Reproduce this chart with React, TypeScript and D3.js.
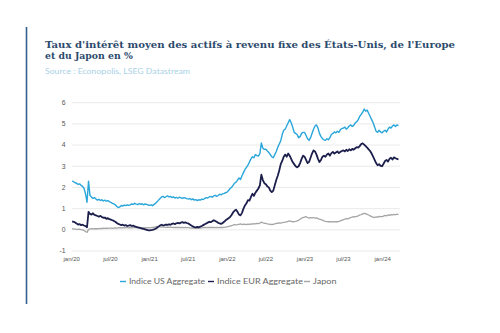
import React from "react";
import * as d3 from "d3";

// Weekly observations starting 3 Jan 2020, rows = quarters (13 weeks)
const usAggregate = [
  2.30, 2.27, 2.22, 2.20, 2.14, 2.17, 2.10, 2.05, 1.95, 1.70, 1.30, 2.30, 1.62,
  1.55, 1.48, 1.52, 1.45, 1.40, 1.44, 1.38, 1.42, 1.36, 1.40, 1.35, 1.38, 1.33,
  1.30, 1.25, 1.22, 1.18, 1.10, 1.05, 1.08, 1.15, 1.12, 1.17, 1.14, 1.18, 1.15,
  1.18, 1.22, 1.20, 1.25, 1.21, 1.19, 1.24, 1.20, 1.23, 1.18, 1.22, 1.20, 1.17,
  1.15, 1.18, 1.14, 1.20, 1.25, 1.32, 1.40, 1.48, 1.55, 1.58, 1.52, 1.56, 1.60,
  1.55, 1.58, 1.52, 1.56, 1.50, 1.53, 1.49, 1.54, 1.51, 1.48, 1.52, 1.50, 1.47,
  1.45, 1.48, 1.42, 1.46, 1.40, 1.43, 1.38, 1.42, 1.40, 1.45, 1.43, 1.48, 1.52,
  1.50, 1.55, 1.58, 1.54, 1.60, 1.63, 1.58, 1.62, 1.68, 1.65, 1.70, 1.72, 1.75,
  1.78, 1.85, 1.95, 2.00, 2.10, 2.20, 2.25, 2.35, 2.45, 2.38, 2.55, 2.70, 2.85,
  2.95, 3.05, 3.20, 3.35, 3.45, 3.40, 3.55, 3.50, 3.48, 3.60, 4.10, 3.85, 3.80,
  3.80, 3.72, 3.65, 3.55, 3.45, 3.40, 3.55, 3.70, 3.90, 4.05, 4.20, 4.50, 4.70,
  4.75, 4.90, 5.05, 5.20, 5.05, 4.85, 4.60, 4.55, 4.50, 4.35, 4.40, 4.55, 4.60,
  4.60, 4.45, 4.30, 4.22, 4.35, 4.55, 4.75, 4.90, 4.95, 4.80, 4.55, 4.40, 4.30,
  4.25, 4.22, 4.30, 4.25, 4.35, 4.50, 4.55, 4.62, 4.58, 4.65, 4.60, 4.72, 4.78,
  4.80, 4.85, 4.75, 4.82, 4.90, 4.95, 4.88, 4.93, 5.05, 5.10, 5.20, 5.35, 5.45,
  5.55, 5.70, 5.60, 5.65, 5.50, 5.35, 5.20, 5.05, 4.85, 4.65, 4.60, 4.70, 4.62,
  4.58, 4.65, 4.70, 4.62, 4.75, 4.85, 4.80, 4.90, 4.95, 4.88, 4.95, 4.92,
];

const eurAggregate = [
  0.40, 0.38, 0.35, 0.30, 0.25, 0.27, 0.22, 0.24, 0.20, 0.18, 0.12, 0.85, 0.75,
  0.72, 0.78, 0.70, 0.68, 0.65, 0.62, 0.66, 0.60, 0.57, 0.58, 0.52, 0.55, 0.50,
  0.48, 0.45, 0.42, 0.38, 0.32, 0.28, 0.25, 0.22, 0.24, 0.20, 0.22, 0.18, 0.20,
  0.22, 0.18, 0.20, 0.16, 0.14, 0.12, 0.10, 0.08, 0.06, 0.04, 0.02, 0.00, -0.02,
  -0.03, -0.01, 0.00, 0.02, 0.05, 0.10, 0.15, 0.20, 0.24, 0.21, 0.22, 0.25, 0.23,
  0.26, 0.24, 0.28, 0.30, 0.27, 0.31, 0.33, 0.30, 0.34, 0.36, 0.33, 0.35, 0.32,
  0.30, 0.25, 0.20, 0.16, 0.13, 0.12, 0.14, 0.12, 0.15, 0.18, 0.22, 0.26, 0.30,
  0.34, 0.38, 0.36, 0.40, 0.45, 0.42, 0.38, 0.33, 0.30, 0.28, 0.32, 0.38, 0.45,
  0.50, 0.55, 0.60, 0.70, 0.82, 0.90, 0.95, 0.85, 0.72, 0.68, 0.80, 1.00, 1.15,
  1.25, 1.40, 1.38, 1.55, 1.70, 1.60, 1.75, 1.85, 1.95, 2.10, 2.60, 2.35, 2.20,
  2.15, 2.05, 2.00, 1.85, 1.78, 1.85, 2.10, 2.35, 2.55, 2.80, 3.10, 3.25, 3.45,
  3.55, 3.45, 3.60, 3.50, 3.35, 3.20, 3.10, 3.00, 2.95, 3.00, 3.15, 3.35, 3.50,
  3.45, 3.30, 3.15, 3.20, 3.40, 3.60, 3.75, 3.70, 3.55, 3.35, 3.20, 3.30, 3.45,
  3.50, 3.45, 3.55, 3.60, 3.50, 3.62, 3.68, 3.60, 3.65, 3.70, 3.62, 3.68, 3.72,
  3.75, 3.70, 3.78, 3.72, 3.80, 3.75, 3.82, 3.78, 3.85, 3.90, 3.88, 3.95, 4.05,
  4.08, 4.02, 3.95, 3.88, 3.80, 3.72, 3.60, 3.45, 3.30, 3.15, 3.05, 3.10, 3.02,
  3.00, 3.12, 3.25, 3.30, 3.22, 3.35, 3.40, 3.32, 3.42, 3.38, 3.35, 3.32,
];

const japan = [
  0.05, 0.04, 0.03, 0.02, 0.02, 0.03, 0.01, 0.00, -0.03, -0.08, -0.12, 0.02, 0.04,
  0.05, 0.04, 0.05, 0.06, 0.05, 0.06, 0.07, 0.06, 0.08, 0.07, 0.08, 0.07, 0.08,
  0.08, 0.07, 0.08, 0.09, 0.08, 0.09, 0.10, 0.09, 0.10, 0.09, 0.10, 0.10, 0.09,
  0.10, 0.09, 0.10, 0.11, 0.10, 0.09, 0.10, 0.09, 0.10, 0.09, 0.10, 0.09, 0.10,
  0.09, 0.10, 0.11, 0.12, 0.14, 0.16, 0.15, 0.14, 0.13, 0.14, 0.13, 0.12, 0.13,
  0.12, 0.13, 0.12, 0.11, 0.12, 0.11, 0.12, 0.11, 0.10, 0.11, 0.10, 0.11, 0.10,
  0.10, 0.09, 0.08, 0.09, 0.08, 0.07, 0.08, 0.07, 0.08, 0.09, 0.10, 0.11, 0.10,
  0.11, 0.12, 0.11, 0.12, 0.11, 0.10, 0.11, 0.10, 0.11, 0.12, 0.11, 0.12, 0.13,
  0.14, 0.16, 0.18, 0.20, 0.22, 0.25, 0.23, 0.24, 0.26, 0.28, 0.25, 0.27, 0.26,
  0.25, 0.27, 0.26, 0.28, 0.27, 0.29, 0.28, 0.30, 0.29, 0.32, 0.36, 0.33, 0.31,
  0.30, 0.28, 0.27, 0.26, 0.25, 0.26, 0.28, 0.30, 0.31, 0.33, 0.32, 0.34, 0.35,
  0.36, 0.38, 0.40, 0.42, 0.40, 0.38, 0.39, 0.40, 0.42, 0.45, 0.50, 0.55, 0.58,
  0.60, 0.62, 0.58, 0.55, 0.57, 0.56, 0.58, 0.55, 0.56, 0.53, 0.50, 0.48, 0.46,
  0.42, 0.40, 0.39, 0.38, 0.39, 0.37, 0.38, 0.37, 0.39, 0.38, 0.40, 0.42, 0.45,
  0.48, 0.50, 0.53, 0.52, 0.55, 0.58, 0.60, 0.62, 0.61, 0.64, 0.66, 0.70, 0.72,
  0.75, 0.78, 0.76, 0.73, 0.70, 0.66, 0.62, 0.60, 0.58, 0.61, 0.60, 0.63, 0.62,
  0.62, 0.65, 0.68, 0.66, 0.70, 0.68, 0.72, 0.70, 0.73, 0.71, 0.74, 0.72,
];

const yTicks = [-1, 0, 1, 2, 3, 4, 5, 6];
const xTickLabels = ["jan/20", "jul/20", "jan/21", "jul/21", "jan/22", "jul/22", "jan/23", "jul/23", "jan/24"];
const seriesNames = ["Indice US Aggregate", "Indice EUR Aggregate", "Japon"];
const seriesColors = ["#2aa6da", "#1c1f4c", "#a5a5a5"];
const seriesWidths = [1.4, 1.8, 1.3];

const title1 = "Taux d'intérêt moyen des actifs à revenu fixe des États-Unis, de l'Europe";
const title2 = "et du Japon en %";
const source = "Source : Econopolis, LSEG Datastream";

export default function App() {
  const W = 500, H = 333;
  const start = new Date(2020, 0, 3);
  const dates = usAggregate.map((_, i) => d3.timeDay.offset(start, 7 * i));
  const x = d3.scaleTime().domain([new Date(2020, 0, 1), new Date(2024, 0, 1)]).range([71.7, 382.7]);
  const y = d3.scaleLinear().domain([-1, 6]).range([251, 102.7]);
  const tickDates = xTickLabels.map((_, i) => d3.timeMonth.offset(new Date(2020, 0, 1), 6 * i));
  const line = d3.line<number>().x((_, i) => x(dates[i])).y((d) => y(d)).curve(d3.curveLinear);
  const series = [usAggregate, eurAggregate, japan];
  const gridX0 = 72, gridX1 = 400;

  const legendX = [120, 208, 304];
  const legendTextW = [76, 86, 23.5];

  return (
    <svg width={W} height={H} style={{ position: "absolute", left: 0, top: 0, background: "#fff" }}>
      <rect x={0} y={0} width={W} height={H} fill="#fff" />
      <line x1={26.5} x2={26.5} y1={27} y2={304} stroke="#33608e" strokeWidth={1.6} />
      <text x={45} y={48} fontFamily="DejaVu Serif" fontWeight="bold" fontSize={9.3} fill="#2c4a6c" textLength={410} lengthAdjust="spacingAndGlyphs">{title1}</text>
      <text x={45} y={59} fontFamily="DejaVu Serif" fontWeight="bold" fontSize={9.3} fill="#2c4a6c">{title2}</text>
      <text x={45} y={74} fontFamily="Lato, 'Noto Sans', sans-serif" fontSize={8.3} fill="#a9d2e6" textLength={145} lengthAdjust="spacingAndGlyphs">{source}</text>

      {yTicks.map((t) => (
        <g key={t}>
          <line x1={gridX0} x2={gridX1} y1={y(t)} y2={y(t)} stroke="#e5e5e5" strokeWidth={0.8} />
          <text x={65.5} y={y(t) + 2.4} textAnchor="end" fontFamily="'Liberation Sans', Arial, sans-serif" fontSize={6.8} fill="#555">{t}</text>
        </g>
      ))}
      {tickDates.map((d, i) => (
        <text key={i} x={x(d)} y={261} textAnchor="middle" fontFamily="'Liberation Sans', Arial, sans-serif" fontSize={6} fill="#555">{xTickLabels[i]}</text>
      ))}

      {series.map((s, i) => (
        <path key={i} d={line(s) || ""} fill="none" stroke={seriesColors[i]} strokeWidth={seriesWidths[i]} strokeLinejoin="round" />
      )).reverse()}

      {seriesNames.map((n, i) => (
        <g key={i}>
          <line x1={legendX[i]} x2={legendX[i] + 6} y1={281.5} y2={281.5} stroke={seriesColors[i]} strokeWidth={1.4} />
          <text x={legendX[i] + 9} y={284.2} fontFamily="Lato, 'Noto Sans', sans-serif" fontSize={8.2} fill="#666" textLength={legendTextW[i]} lengthAdjust="spacingAndGlyphs">{n}</text>
        </g>
      ))}
    </svg>
  );
}
